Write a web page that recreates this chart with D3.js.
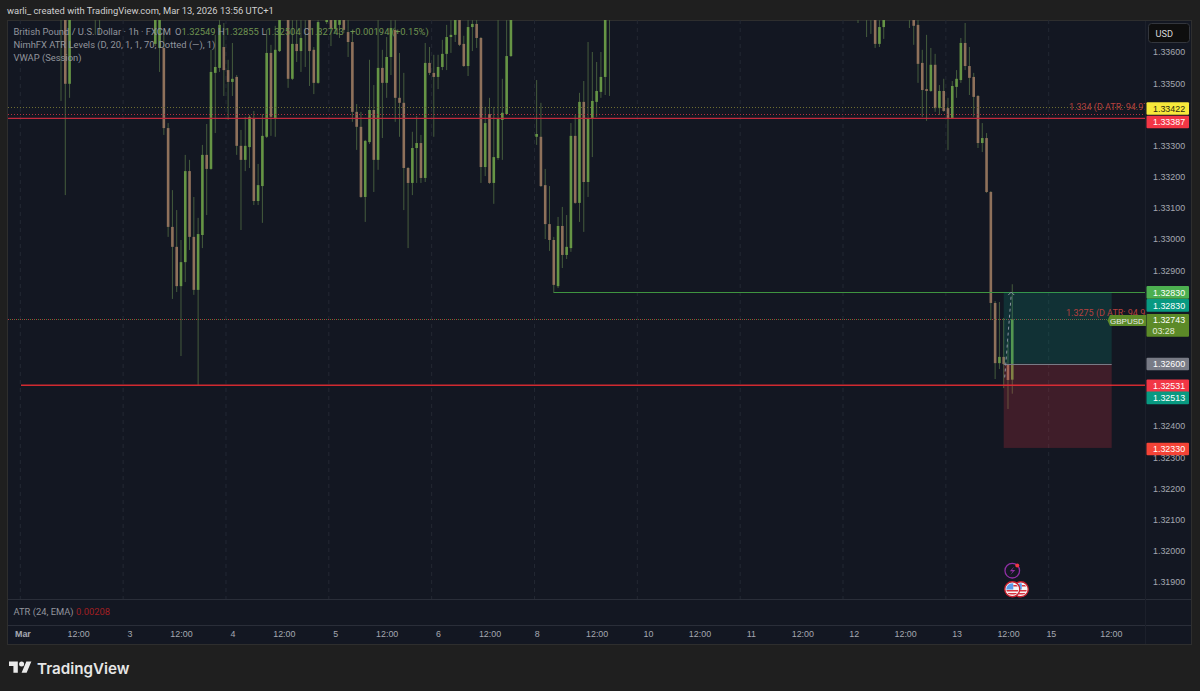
<!DOCTYPE html>
<html>
<head>
<meta charset="utf-8">
<script src="https://cdnjs.cloudflare.com/ajax/libs/d3/7.8.5/d3.min.js"></script>
<style>
    html, body { margin: 0; padding: 0; background: #1f1f1f; overflow: hidden; }
    text { font-family: Roboto, "Liberation Sans", Arial, sans-serif; }
</style>
</head>
<body>
<div id="chart"></div>
<script>
// hourly slots, counted from the first candle on screen (gaps = bars above the visible range)
const slots = [
    0,1,2,8,9,22,23,24,25,26,
    27,28,29,30,31,32,33,34,35,36,
    37,38,39,40,41,42,43,44,45,46,
    47,48,49,50,51,53,54,55,56,57,
    58,59,60,62,63,64,65,66,67,68,
    69,70,71,72,73,74,75,76,77,78,
    79,80,81,82,83,84,85,86,87,88,
    89,90,91,92,93,94,95,96,97,98,
    99,100,101,102,103,104,105,111,112,113,
    114,115,116,117,118,119,120,121,122,123,
    124,125,126,127,128,186,188,189,190,191,
    192,198,199,200,201,202,203,204,205,206,
    207,208,209,210,211,212,213,214,215,216,
    217,218,219,220,221,222
];
const opens = [
    1.33719,1.33751,1.33498,1.33719,1.33751,1.33626,1.33613,1.33613,1.33356,1.33039,
    1.32975,1.32849,1.32926,1.33218,1.33007,1.32837,1.33013,1.33270,1.33225,1.33533,
    1.33549,1.33616,1.33542,1.33504,1.33520,1.33299,1.33254,1.33295,1.33388,1.33122,
    1.33170,1.33328,1.33597,1.33388,1.33603,1.33735,1.33514,1.33626,1.33603,1.33719,
    1.33729,1.33607,1.33501,1.33696,1.33735,1.33674,1.33687,1.33735,1.33664,1.33632,
    1.33408,1.33360,1.33135,1.33311,1.33414,1.33254,1.33549,1.33501,1.33584,1.33671,
    1.33453,1.33437,1.33228,1.33180,1.33292,1.33308,1.33196,1.33565,1.33533,1.33520,
    1.33552,1.33594,1.33648,1.33655,1.33735,1.33626,1.33555,1.33680,1.33690,1.33645,
    1.33231,1.33401,1.33180,1.33260,1.33382,1.33401,1.33587,1.33328,1.33328,1.33173,
    1.33048,1.32997,1.32849,1.33042,1.32949,1.32971,1.33331,1.33116,1.33440,1.33183,
    1.33388,1.33440,1.33472,1.33520,1.33719,1.33729,1.33751,1.33719,1.33729,1.33626,
    1.33680,1.33719,1.33735,1.33687,1.33565,1.33481,1.33475,1.33559,1.33420,1.33475,
    1.33420,1.33388,1.33488,1.33510,1.33629,1.33555,1.33520,1.33459,1.33308,1.33324,
    1.33151,1.32795,1.32602,1.32622,1.32599,1.32549
];
const highs = [
    1.33761,1.33761,1.33761,1.33761,1.33761,1.33761,1.33761,1.33671,1.33372,1.33157,
    1.33093,1.32997,1.33270,1.33254,1.33135,1.33068,1.33302,1.33369,1.33607,1.33655,
    1.33735,1.33693,1.33575,1.33629,1.33526,1.33350,1.33392,1.33398,1.33411,1.33241,
    1.33401,1.33671,1.33623,1.33684,1.33751,1.33751,1.33709,1.33719,1.33719,1.33761,
    1.33751,1.33616,1.33735,1.33751,1.33751,1.33751,1.33741,1.33751,1.33703,1.33664,
    1.33433,1.33408,1.33318,1.33575,1.33494,1.33703,1.33607,1.33648,1.33735,1.33703,
    1.33597,1.33533,1.33231,1.33344,1.33395,1.33334,1.33629,1.33616,1.33591,1.33591,
    1.33639,1.33687,1.33703,1.33751,1.33751,1.33652,1.33729,1.33735,1.33735,1.33648,
    1.33424,1.33453,1.33424,1.33703,1.33514,1.33719,1.33751,1.33510,1.33437,1.33225,
    1.33170,1.33007,1.33071,1.33103,1.33077,1.33372,1.33398,1.33469,1.33507,1.33632,
    1.33600,1.33568,1.33600,1.33751,1.33761,1.33761,1.33761,1.33761,1.33751,1.33719,
    1.33751,1.33761,1.33751,1.33735,1.33607,1.33655,1.33613,1.33594,1.33494,1.33514,
    1.33453,1.33507,1.33542,1.33645,1.33693,1.33616,1.33533,1.33462,1.33372,1.33340,
    1.33154,1.32801,1.32798,1.32747,1.32673,1.32855
];
const lows = [
    1.33443,1.33141,1.33453,1.33655,1.33655,1.33619,1.33536,1.33334,1.33007,1.32808,
    1.32830,1.32625,1.32862,1.32965,1.32821,1.32529,1.32971,1.33077,1.33222,1.33340,
    1.33536,1.33459,1.33382,1.33459,1.33270,1.33029,1.33218,1.33228,1.33109,1.33109,
    1.33052,1.33324,1.33331,1.33328,1.33600,1.33485,1.33510,1.33568,1.33536,1.33552,
    1.33491,1.33465,1.33498,1.33690,1.33619,1.33661,1.33645,1.33661,1.33584,1.33376,
    1.33286,1.33132,1.33055,1.33305,1.33151,1.33222,1.33324,1.33453,1.33526,1.33376,
    1.33328,1.33093,1.32971,1.33141,1.33180,1.33180,1.33183,1.33526,1.33328,1.33481,
    1.33542,1.33542,1.33597,1.33632,1.33619,1.33552,1.33523,1.33603,1.33613,1.33180,
    1.33202,1.33177,1.33113,1.33254,1.33254,1.33398,1.33584,1.33302,1.33167,1.33000,
    1.32962,1.32827,1.32843,1.32907,1.32936,1.32959,1.33113,1.33055,1.33023,1.33135,
    1.33263,1.33392,1.33453,1.33462,1.33459,1.33693,1.33648,1.33658,1.33613,1.33616,
    1.33642,1.33677,1.33623,1.33501,1.33392,1.33379,1.33472,1.33408,1.33398,1.33408,
    1.33286,1.33385,1.33453,1.33501,1.33542,1.33462,1.33392,1.33292,1.33279,1.33148,
    1.32740,1.32551,1.32583,1.32522,1.32455,1.32504
];
const closes = [
    1.33751,1.33498,1.33735,1.33751,1.33719,1.33735,1.33735,1.33356,1.33039,1.32975,
    1.32849,1.32926,1.33218,1.33007,1.32837,1.33016,1.33270,1.33225,1.33536,1.33552,
    1.33687,1.33542,1.33504,1.33514,1.33299,1.33254,1.33299,1.33392,1.33122,1.33173,
    1.33331,1.33597,1.33392,1.33607,1.33703,1.33514,1.33626,1.33603,1.33645,1.33751,
    1.33603,1.33501,1.33696,1.33741,1.33677,1.33735,1.33719,1.33671,1.33632,1.33408,
    1.33360,1.33135,1.33315,1.33414,1.33254,1.33549,1.33501,1.33584,1.33677,1.33453,
    1.33437,1.33228,1.33180,1.33292,1.33308,1.33196,1.33565,1.33533,1.33520,1.33552,
    1.33594,1.33648,1.33655,1.33735,1.33623,1.33555,1.33680,1.33690,1.33645,1.33231,
    1.33372,1.33180,1.33263,1.33385,1.33405,1.33587,1.33729,1.33337,1.33170,1.33048,
    1.32997,1.32853,1.33042,1.32949,1.32975,1.33331,1.33116,1.33440,1.33183,1.33388,
    1.33443,1.33475,1.33520,1.33729,1.33751,1.33751,1.33719,1.33751,1.33626,1.33680,
    1.33735,1.33751,1.33684,1.33562,1.33478,1.33475,1.33559,1.33420,1.33475,1.33411,
    1.33388,1.33491,1.33514,1.33629,1.33555,1.33517,1.33456,1.33308,1.33324,1.33151,
    1.32795,1.32602,1.32622,1.32599,1.32548,1.32743
];

const priceTicks = [1.336,1.335,1.333,1.332,1.331,1.33,1.329,1.324,1.323,1.322,1.321,1.32,1.319];
const timeSlots  = [-9,4,16,28,40,52,64,76,88,100,111,125,137,149,161,173,185,197,209,221,231,245];
const timeLabels = ["Mar","12:00","3","12:00","4","12:00","5","12:00","6","12:00","8","12:00","10","12:00","11","12:00","12","12:00","13","12:00","15","12:00"];
const gridSlots  = [-9.5,14.5,38.5,62.5,86.5,110.5,134.5,158.5,182.5,206.5,230.5];

const legendRows = ["British Pound / U.S. Dollar \u00b7 1h \u00b7 FXCM", "NimhFX ATR Levels (D, 20, 1, 1, 70, Dotted (\u2014), 1)", "VWAP (Session)"];
const ohlcNames  = ["O", "H", "L", "C"];
const ohlcValues = ["1.32549", "1.32855", "1.32504", "1.32743"];

const atrHigh = 1.334, atrLow = 1.32745;
const levelYellow = 1.33422, levelRedTop = 1.33387, levelRedBottom = 1.32531, levelGreen = 1.3283, lastPrice = 1.32743;
const entry = 1.326, target = 1.3283, stop = 1.3233;

const axisLabelPrices = [1.33422,1.33387,1.3283,1.3283,1.326,1.32531,1.32513,1.3233];
const axisLabelColors = ["#f7e93b","#f23645","#4caf50","#089981","#787b86","#f23645","#089981","#f44336"];


// layout
const W = 1200, H = 691;
const pane = { left: 8, right: 1145, top: 20, bottom: 599 };
const axisFont = 8.9;

const svg = d3.select("#chart").append("svg")
    .attr("width", W)
    .attr("height", H)
    .style("display", "block");

const x = d3.scaleLinear().domain([0, 222]).range([61, 61 + 222 * 4.285]);
const y = d3.scaleLinear().domain([1.336, 1.319]).range([52, 582]);
const snap = p => Math.round(y(p)) + 0.5;

const defs = svg.append("defs");
defs.append("clipPath").attr("id", "pane-clip")
    .append("rect")
    .attr("x", pane.left).attr("y", pane.top)
    .attr("width", pane.right - pane.left + 1).attr("height", pane.bottom - pane.top);

// panel background
svg.append("rect")
    .attr("x", 7.5).attr("y", 20.5)
    .attr("width", 1184).attr("height", 624)
    .attr("fill", "#131722")
    .attr("stroke", "#2e2e2e");

svg.append("text")
    .attr("x", 7).attr("y", 14)
    .attr("font-size", 9.4)
    .attr("fill", "#cfcfcf")
    .text("warli_ created with TradingView.com, Mar 13, 2026 13:56 UTC+1");

const plot = svg.append("g").attr("clip-path", "url(#pane-clip)");

// grid
plot.selectAll(".grid-line").data(gridSlots).enter().append("line")
    .attr("class", "grid-line")
    .attr("x1", d => x(d)).attr("x2", d => x(d))
    .attr("y1", pane.top).attr("y2", pane.bottom)
    .attr("stroke", "#232833")
    .attr("stroke-dasharray", "4,4");

// pane separators
[599.5, 625.5].forEach(d => {
    svg.append("line")
        .attr("x1", 8).attr("x2", 1191)
        .attr("y1", d).attr("y2", d)
        .attr("stroke", "#2a2e39");
});
svg.append("line")
    .attr("x1", 1145.5).attr("x2", 1145.5)
    .attr("y1", 21).attr("y2", 644)
    .attr("stroke", "#1c202b");

// candles
const candles = slots.map((s, i) => ({ s: s, o: opens[i], h: highs[i], l: lows[i], c: closes[i] }));
const up = d => d.c >= d.o;

plot.selectAll(".wick").data(candles).enter().append("line")
    .attr("class", "wick")
    .attr("x1", d => x(d.s)).attr("x2", d => x(d.s))
    .attr("y1", d => y(d.h)).attr("y2", d => y(d.l))
    .attr("stroke", "#455c3d")
    .attr("stroke-width", 1);

plot.selectAll(".body").data(candles).enter().append("rect")
    .attr("class", "body")
    .attr("x", d => x(d.s) - 1.3)
    .attr("width", 2.6)
    .attr("y", d => y(Math.max(d.o, d.c)))
    .attr("height", d => Math.max(Math.abs(y(d.o) - y(d.c)), 1))
    .attr("fill", d => up(d) ? "#669545" : "#8f715b");

// level lines
plot.append("line").attr("x1", 8).attr("x2", 1146)
    .attr("y1", snap(levelYellow)).attr("y2", snap(levelYellow))
    .attr("stroke", "#6e6e32").attr("stroke-dasharray", "1,2");
plot.append("line").attr("x1", 8).attr("x2", 1146)
    .attr("y1", snap(atrHigh)).attr("y2", snap(atrHigh))
    .attr("stroke", "#b0303f").attr("stroke-dasharray", "1,2");
plot.append("line").attr("x1", 8).attr("x2", 1146)
    .attr("y1", y(levelRedTop)).attr("y2", y(levelRedTop))
    .attr("stroke", "#c22a3e").attr("stroke-width", 1.3);
plot.append("line").attr("x1", 8).attr("x2", 1146)
    .attr("y1", snap(atrLow)).attr("y2", snap(atrLow))
    .attr("stroke", "#b83a3c").attr("stroke-dasharray", "1,3");
plot.append("line").attr("x1", 10).attr("x2", 1146)
    .attr("y1", snap(lastPrice)).attr("y2", snap(lastPrice))
    .attr("stroke", "#4f7a38").attr("stroke-dasharray", "1,3");
plot.append("line").attr("x1", x(115)).attr("x2", 1146)
    .attr("y1", snap(levelGreen)).attr("y2", snap(levelGreen))
    .attr("stroke", "#3f9440");
plot.append("line").attr("x1", 21).attr("x2", 1146)
    .attr("y1", y(levelRedBottom)).attr("y2", y(levelRedBottom))
    .attr("stroke", "#d12a30").attr("stroke-width", 1.4);

// long position tool
const toolStart = x(220), toolEnd = x(245.2);
plot.append("rect")
    .attr("x", toolStart).attr("width", toolEnd - toolStart)
    .attr("y", y(target)).attr("height", y(entry) - y(target))
    .attr("fill", "#089981").attr("fill-opacity", 0.2);
plot.append("rect")
    .attr("x", toolStart).attr("width", toolEnd - toolStart)
    .attr("y", y(entry)).attr("height", y(stop) - y(entry))
    .attr("fill", "#f23645").attr("fill-opacity", 0.2);
plot.append("line")
    .attr("x1", toolStart).attr("x2", toolEnd)
    .attr("y1", snap(entry)).attr("y2", snap(entry))
    .attr("stroke", "#787b86");
plot.append("path")
    .attr("d", d3.line()([[toolStart + 1, y(1.32556)], [x(222) - 1, y(target) + 2]]))
    .attr("fill", "none")
    .attr("stroke", "#8b93a0")
    .attr("stroke-dasharray", "3,3");
plot.append("path")
    .attr("d", d3.line()([[x(222) - 4, y(target) + 3], [x(222) - 1, y(target)], [x(222) + 2, y(target) + 3]]))
    .attr("fill", "none")
    .attr("stroke", "#8b93a0");

// ATR level captions, cut off by the price axis
[[atrHigh, "1.334 (D ATR: 94.97", 1069, -4], [atrLow, "1.3275 (D ATR: 94.97", 1066, -3]].forEach(d => {
    plot.append("text")
        .attr("x", d[2]).attr("y", y(d[0]) + d[3])
        .attr("font-size", 9)
        .attr("fill", "#b5403f")
        .text(d[1]);
});

// legend
const legend = svg.append("g").attr("font-size", 9.4).attr("fill", "#92959d");
legendRows.forEach((t, i) => {
    legend.append("text").attr("x", 13.5).attr("y", 34.5 + i * 13).text(t);
});
const ohlcX = [175, 218, 261.5, 303.5];
ohlcNames.forEach((n, i) => {
    let t = legend.append("text").attr("x", ohlcX[i]).attr("y", 34.5).text(n);
    t.append("tspan").attr("fill", "#6f9350").text(ohlcValues[i]);
});
legend.append("text").attr("x", 350).attr("y", 34.5)
    .attr("fill", "#6f9350").text("+0.00194 (+0.15%)");

// ATR pane
svg.append("text").attr("x", 13.5).attr("y", 614.5)
    .attr("font-size", 9.4).attr("fill", "#92959d").text("ATR (24, EMA)");
svg.append("text").attr("x", 76).attr("y", 614.5)
    .attr("font-size", 9.4).attr("fill", "#a11f22").text("0.00208");

// price axis
const yAxis = d3.axisRight(y).tickValues(priceTicks).tickFormat(d3.format(".5f")).tickSize(0);
const yAxisGroup = svg.append("g")
    .attr("class", "axis y-axis")
    .attr("transform", "translate(1153,0)")
    .call(yAxis);
yAxisGroup.select(".domain").remove();
yAxisGroup.selectAll("text")
    .attr("x", 0)
    .style("font-family", "Liberation Sans, Arial, sans-serif")
    .style("font-size", axisFont + "px")
    .style("fill", "#a5a8b1");

// time axis
const xAxis = d3.axisBottom(x).tickValues(timeSlots).tickFormat((d, i) => timeLabels[i]).tickSize(0);
const xAxisGroup = svg.append("g")
    .attr("class", "axis x-axis")
    .attr("transform", "translate(0,626)")
    .call(xAxis);
xAxisGroup.select(".domain").remove();
xAxisGroup.selectAll("text")
    .attr("y", 5)
    .style("font-family", "Liberation Sans, Arial, sans-serif")
    .style("font-size", axisFont + "px")
    .style("fill", "#a5a8b1");
xAxisGroup.selectAll("text").filter((d, i) => i === 0).style("font-weight", "bold");

// USD button
svg.append("rect")
    .attr("x", 1148.5).attr("y", 23.5)
    .attr("width", 41).attr("height", 19).attr("rx", 3)
    .attr("fill", "#0e0e0e").attr("stroke", "#33363d");
svg.append("text")
    .attr("x", 1155.5).attr("y", 36.5)
    .attr("font-size", 9.2).attr("fill", "#d8d8d8")
    .text("USD");

// price axis labels; overlapping ones are pushed apart like on the original
const labelShift = [1, 3.6, 0.3, 13.3, 0.3, 0.6, 7, 1];
axisLabelPrices.forEach((p, i) => {
    let cy = y(p) + labelShift[i];
    svg.append("rect")
        .attr("x", 1146.5).attr("y", cy - 6.3)
        .attr("width", 42.5).attr("height", 12.6).attr("rx", 1)
        .attr("fill", axisLabelColors[i]);
    svg.append("text")
        .attr("x", 1153).attr("y", cy + 3.2)
        .style("font-family", "Liberation Sans, Arial, sans-serif")
        .attr("font-size", axisFont)
        .attr("fill", i === 0 ? "#2a2a10" : "#ffffff")
        .text(d3.format(".5f")(p));
});

// last price label with countdown and symbol tag
svg.append("rect")
    .attr("x", 1146.5).attr("y", 314)
    .attr("width", 42.5).attr("height", 22.7).attr("rx", 1)
    .attr("fill", "#5c8a28");
svg.append("text").attr("x", 1153).attr("y", 323.3)
    .style("font-family", "Liberation Sans, Arial, sans-serif")
    .attr("font-size", axisFont).attr("fill", "#ffffff").text(d3.format(".5f")(lastPrice));
svg.append("text").attr("x", 1152.5).attr("y", 334)
    .style("font-family", "Liberation Sans, Arial, sans-serif")
    .attr("font-size", axisFont).attr("fill", "#e4ecd8").text("03:28");
svg.append("path")
    .attr("d", "M1107.5 320.5 L1110 315 H1146 V326 H1110 Z")
    .attr("fill", "#5c8a28");
svg.append("text").attr("x", 1110).attr("y", 323.6)
    .style("font-family", "Liberation Sans, Arial, sans-serif")
    .attr("font-size", 8).attr("fill", "#e8e8e8").text("GBPUSD");

// news/event markers
const markers = svg.append("g");
const markerX = x(222);
markers.append("circle")
    .attr("cx", markerX).attr("cy", 570.7).attr("r", 7.3)
    .attr("fill", "#131722").attr("stroke", "#8e2fa3").attr("stroke-width", 1.3);
markers.append("path")
    .attr("d", `M${markerX + 2} 566.5 L${markerX - 2.5} 571.3 H${markerX + 0.5} L${markerX - 2} 575 L${markerX + 3} 570 H${markerX - 0.2} Z`)
    .attr("fill", "#8e2fa3");
markers.append("circle")
    .attr("cx", markerX + 5).attr("cy", 565.5).attr("r", 2)
    .attr("fill", "#f23645");

[markerX + 8.5, markerX].forEach((cx, i) => {
    defs.append("clipPath").attr("id", "flag-" + i)
        .append("circle").attr("cx", cx).attr("cy", 589.3).attr("r", 6);
    let g = markers.append("g");
    g.append("circle").attr("cx", cx).attr("cy", 589.3).attr("r", 7.5)
        .attr("fill", "#f5f5f5").attr("stroke", "#c9202f").attr("stroke-width", 1.4);
    let flag = g.append("g").attr("clip-path", `url(#flag-${i})`);
    [590, 593].forEach(sy => {
        flag.append("rect").attr("x", cx - 7).attr("y", sy).attr("width", 14).attr("height", 1.5).attr("fill", "#d8333f");
    });
    flag.append("rect").attr("x", cx + 1).attr("y", 585).attr("width", 6).attr("height", 1.5).attr("fill", "#d8333f");
    flag.append("rect").attr("x", cx - 7).attr("y", 583).attr("width", 8).attr("height", 6.5).attr("fill", "#5b9bea");
});

// TradingView footer
const logo = svg.append("g")
    .attr("transform", "translate(9,659) scale(0.63)")
    .attr("fill", "#eaeaea");
logo.append("path").attr("d", "M14 22H7V11H0V4h14v18zM28 22h-8l7.5-18h8L28 22z");
logo.append("circle").attr("cx", 20).attr("cy", 8).attr("r", 4);

svg.append("text")
    .attr("x", 37).attr("y", 673.5)
    .attr("font-size", 15.2)
    .attr("font-weight", 600)
    .style("font-family", "Inter, Roboto, sans-serif")
    .attr("fill", "#e6e6e6")
    .text("TradingView");
</script>
</body>
</html>
